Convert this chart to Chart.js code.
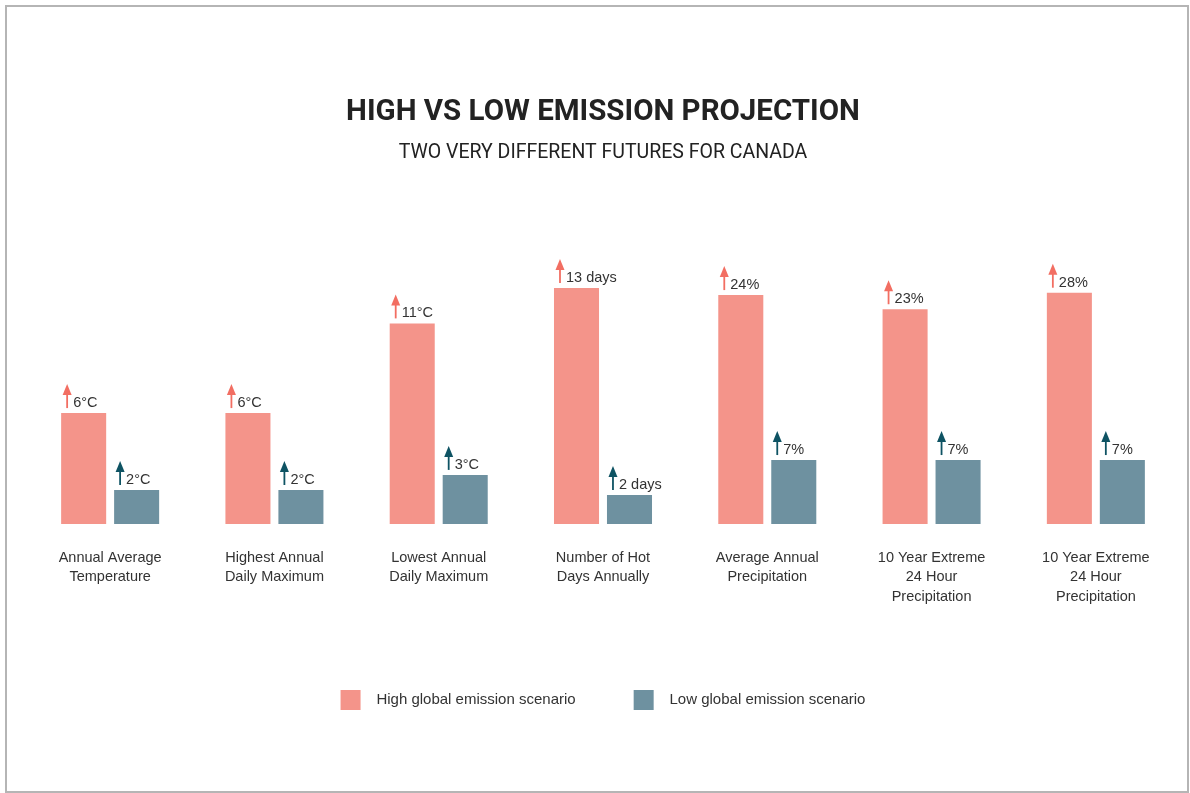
<!DOCTYPE html>
<html>
<head>
<meta charset="utf-8">
<script src="https://cdn.jsdelivr.net/npm/chart.js@4"></script>
<style>
    body { margin: 0; background: #fff; }
    #frame { position: absolute; left: 5px; top: 5px; width: 1184px; height: 788px; box-sizing: border-box; border: 2px solid #b5b5b5; }
    #wrap { position: absolute; left: 0; top: 0; width: 1190px; height: 793px; }
</style>
</head>
<body>
<div id="frame"></div>
<div id="wrap"><canvas id="emissionChart"></canvas></div>
<script>

// categories (multi line labels)
let categories = [
    ["Annual Average", "Temperature"],
    ["Highest Annual", "Daily Maximum"],
    ["Lowest Annual", "Daily Maximum"],
    ["Number of Hot", "Days Annually"],
    ["Average Annual", "Precipitation"],
    ["10 Year Extreme", "24 Hour", "Precipitation"],
    ["10 Year Extreme", "24 Hour", "Precipitation"]
]

// bar heights as drawn in the picture (tallest bar = 100)
let highHeights = [47, 47, 85, 100, 97, 91, 98]
let lowHeights = [14.4, 14.4, 20.8, 12.3, 27.1, 27.1, 27.1]

// the numbers printed above the bars
let highLabels = ["6°C", "6°C", "11°C", "13 days", "24%", "23%", "28%"]
let lowLabels = ["2°C", "2°C", "3°C", "2 days", "7%", "7%", "7%"]

let highColor = "#f4948a"
let lowColor = "#6e91a0"
let highArrow = "#f26e62"
let lowArrow = "#0e5363"
let fontName = "'Liberation Sans', Arial, sans-serif"

// arrow + value written over each bar
let arrowLabels = {
    id: "arrowLabels",
    afterDatasetsDraw: function (chart) {
        let ctx = chart.ctx
        chart.data.datasets.forEach(function (ds, i) {
            let meta = chart.getDatasetMeta(i)
            let texts = i == 0 ? highLabels : lowLabels
            let col = i == 0 ? highArrow : lowArrow
            meta.data.forEach(function (bar, j) {
                let left = bar.x - bar.width / 2
                let top = bar.y
                let ax = left + 6
                ctx.save()
                ctx.strokeStyle = col
                ctx.fillStyle = col
                ctx.lineWidth = 1.8
                ctx.beginPath()
                ctx.moveTo(ax, top - 5)
                ctx.lineTo(ax, top - 20)
                ctx.stroke()
                ctx.beginPath()
                ctx.moveTo(ax, top - 29)
                ctx.lineTo(ax - 4.5, top - 18)
                ctx.lineTo(ax + 4.5, top - 18)
                ctx.closePath()
                ctx.fill()
                ctx.fillStyle = "#333"
                ctx.font = "14.5px " + fontName
                ctx.textAlign = "left"
                ctx.textBaseline = "alphabetic"
                ctx.fillText(texts[j], left + 12, top - 6)
                ctx.restore()
            })
        })
    }
}

let canvs = document.getElementById("emissionChart").getContext("2d")
let emissionChart = new Chart(canvs, {
    type: "bar",
    data: {
        labels: categories,
        datasets: [{
            label: "High global emission scenario",
            data: highHeights,
            backgroundColor: highColor
        }, {
            label: "Low global emission scenario",
            data: lowHeights,
            backgroundColor: lowColor
        }]
    },
    options: {
        responsive: true,
        maintainAspectRatio: false,
        animation: false,
        categoryPercentage: 0.645,
        barPercentage: 0.85,
        layout: {
            padding: { left: 28, right: 12, top: 0, bottom: 73 }
        },
        scales: {
            x: {
                grid: { display: false, drawTicks: false },
                border: { display: false },
                ticks: {
                    color: "#333",
                    padding: 24,
                    maxRotation: 0,
                    autoSkip: false,
                    font: { family: fontName, size: 14.5, lineHeight: 1.35 }
                },
                afterFit: function (scale) {
                    scale.height = 108
                }
            },
            y: {
                display: false,
                min: 0,
                max: 120
            }
        },
        plugins: {
            title: {
                display: true,
                text: "HIGH VS LOW EMISSION PROJECTION",
                color: "#222",
                font: { family: "Roboto, sans-serif", size: 29.5, weight: "bold", lineHeight: 1.2 },
                padding: { top: 95, bottom: 11 }
            },
            subtitle: {
                display: true,
                text: "TWO VERY DIFFERENT FUTURES FOR CANADA",
                color: "#222",
                font: { family: "Roboto, sans-serif", size: 19.5, lineHeight: 1.2 },
                padding: { top: 0, bottom: 76 }
            },
            legend: {
                position: "bottom",
                labels: {
                    boxWidth: 20,
                    boxHeight: 20,
                    padding: 58,
                    color: "#333",
                    font: { family: fontName, size: 15 },
                    generateLabels: function (chart) {
                        return chart.data.datasets.map(function (ds, i) {
                            return {
                                text: "  " + ds.label,
                                fillStyle: ds.backgroundColor,
                                strokeStyle: ds.backgroundColor,
                                lineWidth: 0,
                                fontColor: "#333",
                                datasetIndex: i
                            }
                        })
                    }
                }
            },
            tooltip: { enabled: false }
        }
    },
    plugins: [arrowLabels]
})

</script>
</body>
</html>
